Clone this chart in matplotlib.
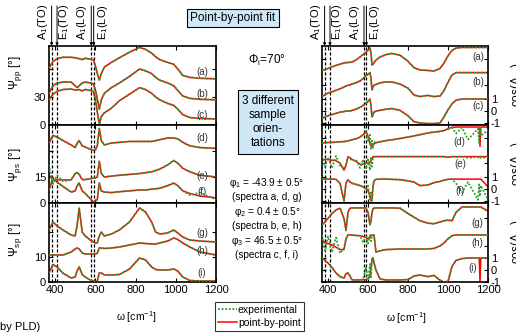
import matplotlib
matplotlib.use('Agg')
import matplotlib.pyplot as plt
from matplotlib.lines import Line2D

plt.rcParams['font.family'] = ['Liberation Sans', 'DejaVu Sans']
plt.rcParams['mathtext.fontset'] = 'custom'
plt.rcParams['mathtext.rm'] = 'Liberation Sans'
plt.rcParams['mathtext.it'] = 'Liberation Sans:italic'
plt.rcParams['mathtext.default'] = 'regular'

W, H = 516, 336
fig = plt.figure(figsize=(5.16, 3.36), dpi=100)

# ---------------- data ----------------
modes = [383, 410, 580, 592]
mode_labels = ['A$_1$(TO)', 'E$_1$(TO)', 'A$_1$(LO)', 'E$_1$(LO)']
xticks = [400, 600, 800, 1000, 1200]

# left column: Psi spectra (offset included), wavenumber grid
wl = [370, 390, 410, 440, 480, 500, 510, 520, 535, 550, 575, 590, 600, 610, 620, 630, 645, 680, 720, 770,
      820, 850, 880, 900, 920, 960, 990, 1010, 1035, 1070, 1120, 1200]
psi_pp_a = [61, 68, 71, 72.5, 72.5, 72, 71.5, 71, 70, 71.5, 70.5, 70, 64, 55, 48, 55, 62, 67, 72, 78,
            83, 81, 77, 73, 70, 67, 65, 60, 53, 51, 50, 49.5]
psi_pp_b = [34, 42, 45, 46, 46, 42, 40, 42, 45, 46, 45, 44, 38, 28, 17, 27, 34, 40, 45, 52,
            60, 58, 55, 51, 48, 45, 42, 37, 31, 28.5, 27.5, 27]
psi_pp_c = [27, 33, 36, 38, 38.5, 37.5, 37.5, 38, 36.5, 38, 37, 36, 28, 14, 1, 9, 13, 18, 26, 33,
            40, 38, 34, 30, 27, 23, 21, 17, 11, 8, 7, 6.5]
psi_ps_d = [34.6, 39, 38, 36, 33.5, 32, 34.5, 36, 33, 32.3, 31, 30.5, 30.5, 33, 43, 36, 33.5, 34.6, 35, 35.5,
            35.5, 35.5, 35.5, 36, 36.5, 37.5, 37.5, 37, 35, 33, 32, 31.5]
psi_ps_e = [16, 13.5, 13.3, 13.3, 13.3, 17, 17.5, 16.5, 13.5, 13.5, 14, 14.4, 14.4, 15, 24, 17, 15, 15.5, 16, 16.5,
            17, 17.5, 18, 18.8, 19.5, 22, 24.5, 23, 20, 18, 16, 15]
psi_ps_e_exp = [22, 11, 16, 12.5, 13.3, 17, 17.5, 16.5, 13.5, 13.5, 14, 14.4, 14.4, 15, 24, 17, 15, 15.5, 16, 16.5,
                17, 17.5, 18, 18.8, 19.5, 22, 24.5, 23, 20, 18, 16, 15]
psi_ps_f = [7.5, 14.4, 12, 9.5, 6.3, 7, 10, 11.5, 7, 5.5, 2.5, 0.6, 1, 2, 11.5, 7, 6.3, 6, 6.5, 7,
            7.5, 7.5, 8, 8.2, 8.5, 10, 11.5, 10, 7, 5.5, 4, 3]
psi_ps_f_exp = [7.5, 14.4, 12, 9.5, 6.3, 7, 10, 11.5, 7, 5.5, 2.5, 0.6, 1, 2, 11.5, 7, 6.3, 6, 6.5, 7,
                7.5, 7.5, 8, 8.2, 8.5, 10, 11.5, 10, 7, 4.5, 6, 2]
psi_sp_g = [20.8, 24, 22.4, 20.8, 18.8, 18.4, 22.8, 29.6, 20, 18.4, 16.8, 16, 15.6, 15.6, 18.4, 20, 18.4, 19.2, 20.8, 24,
            29.6, 28, 24, 20, 19.2, 19.6, 20.8, 19.6, 18, 16.8, 16.4, 16]
psi_sp_h = [10.8, 10.8, 10.8, 10.8, 12, 13.2, 13.6, 13.2, 11.6, 11.2, 11.2, 11.2, 11.2, 11.5, 13.6, 13.6, 13.4, 13.6, 14, 14.8,
            15.6, 15.4, 15.2, 15.2, 15.6, 16.4, 17.6, 17, 15.6, 14, 12, 10.8]
psi_sp_i = [3.6, 7, 6, 3.5, 1.6, 2, 4.5, 6, 3, 2, 0.8, 0.4, 0.2, 0.3, 3.6, 3.6, 2.8, 2.8, 3, 5.2,
            9.6, 8.8, 6, 5, 4.8, 4.8, 5.2, 4.4, 2, 0.6, 0.4, 0.4]

# right column: cos(Delta) spectra
wr = [370, 385, 400, 420, 440, 460, 480, 490, 500, 510, 520, 540, 560, 575, 590, 600, 610, 615, 620, 625,
      630, 640, 660, 690, 720, 760, 800, 830, 860, 900, 930, 960, 980, 1000, 1020, 1040, 1070, 1100, 1150, 1156,
      1160, 1164, 1200]
cos_pp_a = [-0.94, -0.85, -0.75, -0.62, -0.5, -0.4, -0.3, -0.27, -0.26, -0.24, -0.22, -0.05, 0.2, 0.4, 0.6, 0.78, 0.95, 0.5, -0.47, -0.4,
            -0.25, -0.05, 0.2, 0.4, 0.5, 0.35, -0.15, -0.7, -0.88, -0.92, -0.97, -0.75, -0.3, 0.3, 0.75, 0.95, 1.0, 1.0, 1.0, 1.0,
            1.0, 1.0, 1.0]
cos_pp_b = [-1.0, -0.85, -0.7, -0.6, -0.48, -0.35, -0.2, -0.12, -0.05, -0.03, 0.05, 0.15, 0.3, 0.5, 0.75, 0.85, 1.0, 0.5, -0.45, -0.2,
            -0.05, 0.0, 0.15, 0.22, 0.22, 0.05, -0.3, -0.87, -1.0, -0.9, -1.0, -0.95, -0.5, 0.2, 0.8, 1.0, 1.0, 1.0, 1.0, 1.0,
            1.0, 1.0, 1.0]
cos_pp_c = [-0.6, -0.5, -0.4, -0.3, -0.2, -0.1, -0.05, 0.0, 0.0, 0.0, 0.05, 0.15, 0.3, 0.45, 0.65, 0.8, 1.0, 0.4, -0.5, -0.3,
            -0.1, 0.0, 0.05, 0.15, 0.2, 0.05, -0.4, -0.9, -1.0, -1.05, -1.05, -1.0, -0.5, 0.1, 0.6, 0.9, 1.0, 1.0, 1.0, 1.0,
            1.0, 1.0, 1.0]
cos_ps_d = [-0.4, -0.38, -0.36, -0.35, -0.33, -0.3, -0.28, -0.25, -0.22, -0.18, -0.12, -0.05, 0.1, 0.3, 0.53, 0.2, -0.5, -0.6, -0.72, -0.6,
            -0.45, -0.38, -0.3, -0.2, -0.13, -0.02, 0.1, 0.2, 0.3, 0.45, 0.52, 0.58, 0.65, 0.8, 0.92, 0.95, 0.95, 0.95, 0.95, 0.95,
            -0.7, 0.95, 0.95]
cos_ps_d_exp = [-0.4, -0.38, -0.36, -0.35, -0.33, -0.3, -0.28, -0.25, -0.22, -0.18, -0.12, -0.05, 0.1, 0.3, 0.53, -0.2, 0.3, -0.9, -0.2, -0.8,
                -0.3, -0.38, -0.3, -0.2, -0.13, -0.02, 0.1, 0.2, 0.3, 0.45, 0.52, 0.58, 0.65, 0.8, 0.9, 0.4, 0.9, -0.1, 0.8, -0.4,
                0.9, 0.2, 0.7]
cos_ps_e = [0.3, 0.3, 0.3, 0.25, 0.2, 0.0, -0.6, -0.2, 0.55, 0.45, 0.3, 0.15, -0.1, -0.1, 0.0, -0.05, 0.1, 0.2, 0.4, 0.55,
            0.55, 0.55, 0.55, 0.55, 0.55, 0.55, 0.55, 0.55, 0.55, 0.55, 0.55, 0.55, 0.55, 0.5, 0.55, 0.55, 0.55, 0.55, 0.55, 0.55,
            0.55, 0.55, 0.55]
cos_ps_e_exp = [0.6, -0.3, 0.5, -0.4, 0.6, -0.2, -0.5, -0.1, 0.5, 0.4, 0.2, 0.3, -0.4, 0.3, -0.5, 0.4, -0.6, 0.5, -0.3, 0.55,
                0.5, 0.55, 0.55, 0.55, 0.55, 0.55, 0.55, 0.55, 0.55, 0.55, 0.55, 0.55, 0.55, 0.5, 0.55, 0.5, 0.55, 0.45, 0.5, 0.4,
                0.5, 0.45, 0.5]
cos_ps_f = [0.85, 0.85, 0.85, 0.85, 0.83, 0.5, -1.0, 0.5, 0.8, 0.6, 0.5, 0.4, 0.3, 0.2, 0.05, -0.1, -0.6, -1.0, -0.8, 0.2,
            0.7, 0.83, 0.85, 0.85, 0.83, 0.8, 0.7, 0.6, 0.3, 0.35, 0.55, 0.65, 0.75, 0.83, 0.85, 0.85, 0.85, 0.85, 0.85, 0.85,
            0.85, 0.85, 0.2]
cos_ps_f_exp = [0.85, 0.85, 0.85, 0.85, 0.83, 0.5, -1.0, 0.5, 0.8, 0.6, 0.5, 0.4, 0.3, 0.2, 0.05, 0.3, -0.9, -0.3, -1.0, 0.2,
                0.7, 0.83, 0.85, 0.85, 0.83, 0.8, 0.7, 0.6, 0.3, 0.35, 0.55, 0.65, 0.75, 0.83, 0.85, 0.5, -0.3, 0.6, -0.9, 0.4,
                -0.6, 0.3, -0.9]
cos_sp_g = [-0.55, -0.3, 0.0, 0.4, 0.7, 0.85, 0.0, -1.0, 0.5, 0.85, 0.87, 0.87, 0.87, 0.87, 0.87, 0.5, -0.55, -0.2, 0.5, 0.8,
            0.87, 0.87, 0.87, 0.87, 0.87, 0.85, 0.4, 0.1, -0.2, -0.4, -0.45, -0.3, -0.2, -0.15, -0.2, 0.5, 0.95, 0.95, 0.95, 0.95,
            0.95, 0.95, 0.6]
cos_sp_h = [0.5, 0.3, 0.2, 0.1, -0.1, -0.3, -0.3, 0.6, 0.92, 0.92, 0.9, 0.88, 0.85, 0.8, 0.7, 0.6, 0.75, 0.88, 0.92, 0.92,
            0.9, -0.5, -0.4, -0.3, -0.28, -0.25, -0.25, -0.25, -0.25, -0.25, -0.2, 0.0, 0.25, 0.6, 0.85, 0.92, 0.92, 0.92, 0.92, 0.92,
            0.92, 0.92, 0.92]
cos_sp_h_exp = [0.9, -0.4, 0.8, -0.5, 0.7, -0.6, -0.2, 0.6, 0.92, 0.92, 0.9, 0.88, 0.85, 0.3, 0.9, 0.2, 0.9, 0.4, 0.92, 0.92,
                0.9, -0.5, -0.4, -0.3, -0.28, -0.25, -0.25, -0.25, -0.25, -0.25, -0.2, 0.0, 0.25, 0.6, 0.85, 0.92, 0.92, 0.92, 0.92, 0.92,
                0.92, 0.92, 0.92]
cos_sp_i = [1.0, 0.8, 0.58, 0.2, -0.25, -0.55, -0.67, -0.3, -0.25, -0.5, -0.83, -0.83, -0.83, -0.8, -0.8, -0.75, -0.5, 0.2, 0.9, 1.0,
            0.6, 0.0, -0.75, -0.83, -0.83, -0.83, -0.8, -0.5, -0.42, -0.55, -0.45, -0.85, -1.0, -0.95, 0.3, 0.8, 0.95, 1.0, 1.0, 1.0,
            -1.0, 1.0, 1.0]
cos_sp_i_exp = [1.0, 0.8, 0.58, 0.2, -0.25, -0.55, -0.67, -0.3, -0.25, -0.5, -0.83, -0.83, -0.83, -0.8, 0.2, -0.9, 0.5, -0.6, 0.9, 1.0,
                0.6, 0.0, -0.75, -0.83, -0.83, -0.83, -0.8, -0.5, -0.42, -0.55, -0.45, -0.85, -1.0, -0.95, 0.3, 0.8, 0.95, 1.0, 1.0, 1.0,
                1.0, 1.0, 1.0]

cos_offsets_pp = [4.3, 2.2, 0.0]
cos_offsets_ps = [4.3, 2.2, 0.0]
cos_offsets_sp = [4.3, 2.0, 0.0]

# ---------------- layout helpers ----------------
GREEN = '#2e9b2e'
RED = '#ff0000'
BOXBLUE = '#cfe7f7'

def fx(px):
    return px / W

def fy(py):
    return 1 - py / H

rows = [(46, 125), (125, 203), (203, 282)]

def make_ax(x0, x1, y0, y1):
    return fig.add_axes([fx(x0), fy(y1), (x1 - x0) / W, (y1 - y0) / H])

def style(ax, bottom):
    ax.set_xlim(370, 1200)
    ax.set_xticks(xticks)
    ax.tick_params(direction='in', length=3, width=0.8, labelsize=8, pad=2,
                   top=True, right=True, labelbottom=bottom)
    for s in ax.spines.values():
        s.set_linewidth(1.2)
    for m in modes:
        ax.axvline(m, color='k', lw=0.9, ls=(0, (2.5, 1.5)), zorder=1)

def pair(ax, x, fit, exp, off=0.0):
    ax.plot(x, [v + off for v in fit], color=RED, lw=1.1, zorder=2)
    ax.plot(x, [v + off for v in exp], color=GREEN, lw=1.3, ls=(0, (1, 1)), zorder=3)

# ---------------- left column ----------------
axL = [make_ax(49, 216, r[0], r[1]) for r in rows]
for i, ax in enumerate(axL):
    style(ax, i == 2)

pair(axL[0], wl, psi_pp_a, psi_pp_a)
pair(axL[0], wl, psi_pp_b, psi_pp_b)
pair(axL[0], wl, psi_pp_c, psi_pp_c)
axL[0].set_ylim(0, 84.6)
axL[0].set_yticks([0, 30, 60]); axL[0].set_yticklabels(['0', '30', ''])

pair(axL[1], wl, psi_ps_d, psi_ps_d)
pair(axL[1], wl, psi_ps_e, psi_ps_e_exp)
pair(axL[1], wl, psi_ps_f, psi_ps_f_exp)
axL[1].set_ylim(0, 45)
axL[1].set_yticks([0, 15, 30]); axL[1].set_yticklabels(['0', '15', ''])

pair(axL[2], wl, psi_sp_g, psi_sp_g)
pair(axL[2], wl, psi_sp_h, psi_sp_h)
pair(axL[2], wl, psi_sp_i, psi_sp_i)
axL[2].set_ylim(0, 31.6)
axL[2].set_yticks([0, 10, 20]); axL[2].set_yticklabels(['0', '10', ''])

for ax, labs, ys in [(axL[0], ['(a)', '(b)', '(c)'], [57, 33, 11]),
                     (axL[1], ['(d)', '(e)', '(f)'], [37.5, 15.5, 6.5]),
                     (axL[2], ['(g)', '(h)', '(i)'], [19.6, 12.4, 3.6])]:
    for l, y in zip(labs, ys):
        ax.text(1131, y, l, fontsize=7, ha='center', va='center', color='#333333', zorder=4)

# ---------------- right column ----------------
axR = [make_ax(322, 488, r[0], r[1]) for r in rows]
for i, ax in enumerate(axR):
    style(ax, i == 2)
    ax.tick_params(axis='y', labelleft=False, labelright=True, pad=2)

pair(axR[0], wr, cos_pp_a, cos_pp_a, cos_offsets_pp[0])
pair(axR[0], wr, cos_pp_b, cos_pp_b, cos_offsets_pp[1])
pair(axR[0], wr, cos_pp_c, cos_pp_c, cos_offsets_pp[2])
pair(axR[1], wr, cos_ps_d, cos_ps_d_exp, cos_offsets_ps[0])
pair(axR[1], wr, cos_ps_e, cos_ps_e_exp, cos_offsets_ps[1])
pair(axR[1], wr, cos_ps_f, cos_ps_f_exp, cos_offsets_ps[2])
pair(axR[2], wr, cos_sp_g, cos_sp_g, cos_offsets_sp[0])
pair(axR[2], wr, cos_sp_h, cos_sp_h_exp, cos_offsets_sp[1])
pair(axR[2], wr, cos_sp_i, cos_sp_i_exp, cos_offsets_sp[2])

for ax, lim, offs in [(axR[0], (-1.17, 5.42), cos_offsets_pp),
                      (axR[1], (-1.17, 5.42), cos_offsets_ps),
                      (axR[2], (-1.0, 5.58), cos_offsets_sp)]:
    ax.set_ylim(*lim)
    ax.set_yticks([-1, 0, 1, offs[1], offs[0]])
    ax.set_yticklabels(['-1', '0', '1', '', ''])

for ax, labs, xs, ys in [(axR[0], ['(a)', '(b)', '(c)'], [1150, 1150, 1150], [4.5, 2.4, 0.4]),
                         (axR[1], ['(d)', '(e)', '(f)'], [1055, 1060, 1060], [4.0, 2.1, -0.17]),
                         (axR[2], ['(g)', '(h)', '(i)'], [1145, 1145, 1125], [3.9, 2.25, 0.17])]:
    for l, x, y in zip(labs, xs, ys):
        ax.text(x, y, l, fontsize=7, ha='center', va='center', color='#333333', zorder=4)

# ---------------- mode arrows & labels ----------------
text_dx = [-9, 7, -9, 9]  # pixels
for ax in (axL[0], axR[0]):
    tr = ax.get_xaxis_transform()
    for m, lab, dx in zip(modes, mode_labels, text_dx):
        ax.annotate('', xy=(m, 1.0), xycoords=tr, xytext=(m, 1.0 + 40 / 79), textcoords=tr,
                    arrowprops=dict(arrowstyle='-|>', color='k', lw=0.7, mutation_scale=4,
                                    shrinkA=0, shrinkB=0), annotation_clip=False)
        ax.annotate(lab, xy=(m, 1.0), xycoords=tr, xytext=(dx * 0.72, 4.5),
                    textcoords='offset points', rotation=90, ha='center', va='bottom',
                    fontsize=8, annotation_clip=False)

# ---------------- axis labels ----------------
fig.text(fx(15), fy(72), 'Ψ$_{pp}$ [°]', rotation=90, ha='center', va='center', fontsize=8.5)
fig.text(fx(15), fy(165), 'Ψ$_{ps}$ [°]', rotation=90, ha='center', va='center', fontsize=8.5)
fig.text(fx(15), fy(240), 'Ψ$_{sp}$ [°]', rotation=90, ha='center', va='center', fontsize=8.5)
fig.text(fx(136), fy(317), 'ω [cm$^{-1}$]', ha='center', va='center', fontsize=7.5)
fig.text(fx(406), fy(318), 'ω [cm$^{-1}$]', ha='center', va='center', fontsize=7.5)
fig.text(fx(518), fy(85), 'cos(Δ$_{pp}$)', rotation=90, ha='center', va='center', fontsize=8.5)
fig.text(fx(518), fy(164), 'cos(Δ$_{ps}$)', rotation=90, ha='center', va='center', fontsize=8.5)
fig.text(fx(518), fy(242), 'cos(Δ$_{sp}$)', rotation=90, ha='center', va='center', fontsize=8.5)

# ---------------- middle annotations ----------------
fig.text(fx(233), fy(18), 'Point-by-point fit', ha='center', va='center', fontsize=8.5,
         bbox=dict(boxstyle='square,pad=0.25', fc=BOXBLUE, ec='k', lw=0.8))
fig.text(fx(267), fy(60), 'Φ$_i$=70°', ha='center', va='center', fontsize=8.5)
fig.text(fx(268), fy(122), '3 different\nsample\norien-\ntations', ha='center', va='center',
         fontsize=8.5, linespacing=1.25,
         bbox=dict(boxstyle='square,pad=0.35', fc=BOXBLUE, ec='k', lw=0.8))
fig.text(fx(267), fy(218),
         'φ$_1$ = -43.9 ± 0.5°\n(spectra a, d, g)\nφ$_2$ = 0.4 ± 0.5°\n(spectra b, e, h)\n'
         'φ$_3$ = 46.5 ± 0.5°\n(spectra c, f, i)',
         ha='center', va='center', fontsize=7.2, linespacing=1.25)
fig.text(fx(0), fy(327), 'by PLD)', ha='left', va='center', fontsize=8)

handles = [Line2D([], [], color=GREEN, lw=1.3, ls=(0, (1, 1))),
           Line2D([], [], color=RED, lw=1.1)]
leg = fig.legend(handles, ['experimental', 'point-by-point'], loc='upper left',
                 bbox_to_anchor=(fx(215), fy(302)), fontsize=7.5, frameon=True, fancybox=False,
                 handlelength=1.8, handletextpad=0.1, borderpad=0.3, labelspacing=0.25,
                 borderaxespad=0)
leg.get_frame().set_edgecolor('k')
leg.get_frame().set_linewidth(0.8)

fig.savefig('out.png', dpi=100)
